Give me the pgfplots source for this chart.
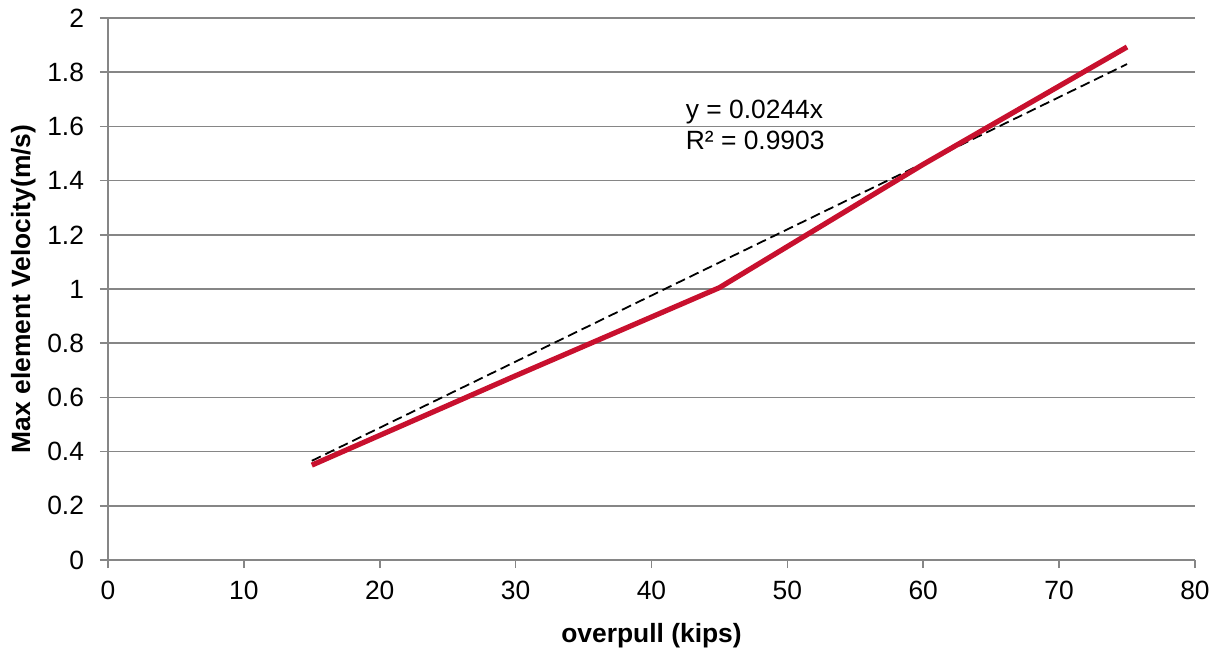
\documentclass[border=0pt]{standalone}
\usepackage{fontspec}
\setmainfont{Liberation Sans}
\usepackage{pgfplots}
\pgfplotsset{compat=1.18}
\definecolor{gridgray}{RGB}{134,134,134}
\definecolor{velred}{RGB}{200,16,46}
\begin{document}
\begin{tikzpicture}[x=1bp,y=1bp]
\useasboundingbox (-54bp,-44bp) rectangle (552.5bp,280bp);
\begin{axis}[
    at={(0,0)}, anchor=south west,
    scale only axis,
    width=543.5bp, height=271bp,
    xmin=0, xmax=80, ymin=0, ymax=2,
    xtick={0,10,...,80},
    ytick={0,0.2,...,2},
    yticklabels={0,0.2,0.4,0.6,0.8,1,1.2,1.4,1.6,1.8,2},
    axis lines=left,
    axis line style={-, gridgray, line width=0.8bp},
    tick style={gridgray, line width=0.8bp},
    tick align=outside,
    major tick length=4bp,
    ymajorgrids=true,
    grid style={gridgray, line width=0.8bp},
    font=\fontsize{13.2bp}{16bp}\selectfont,
    /pgf/number format/assume math mode=true,
    xticklabel style={yshift=-3bp},
    yticklabel style={xshift=-4.5bp},
    xlabel={\textbf{overpull (kips)}},
    ylabel={\textbf{Max element Velocity(m/s)}},
    xlabel style={yshift=-5bp},
    ylabel style={yshift=-1bp},
    clip=false,
]
% trendline y = 0.0244x
\addplot[black, line width=0.9bp, dash pattern=on 5bp off 2.5bp] coordinates {(15,0.366) (75,1.83)};
\addplot[velred, line width=2.6bp, line join=round] coordinates {
    (15,0.35) (30,0.68) (45,1.005) (60,1.46) (75,1.893)};
\node[anchor=north west, align=left, inner sep=0pt, font=\fontsize{13.2bp}{15.5bp}\selectfont]
    at (axis cs:42.5,1.70) {y = 0.0244x\\R² = 0.9903};
\end{axis}
\end{tikzpicture}
\end{document}
